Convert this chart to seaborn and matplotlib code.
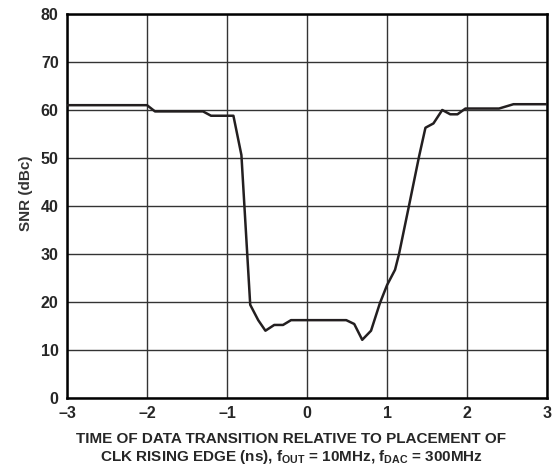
import pandas as pd
import matplotlib
matplotlib.use("Agg")
import matplotlib.pyplot as plt
import seaborn as sns

# SNR vs. data transition timing
time_ns = [-3.0, -2.0, -1.9, -1.3, -1.2, -0.92, -0.82, -0.71, -0.61, -0.52,
           -0.41, -0.30, -0.20, 0.49, 0.59, 0.69, 0.80, 0.91, 1.0, 1.10,
           1.15, 1.28, 1.40, 1.48, 1.58, 1.69, 1.79, 1.88, 1.98, 2.40,
           2.58, 3.0]
snr_dbc = [61.0, 61.0, 59.7, 59.7, 58.8, 58.8, 50.6, 19.4, 16.2, 14.0,
           15.2, 15.2, 16.2, 16.2, 15.4, 12.1, 14.0, 19.7, 23.5, 26.7,
           30.0, 40.5, 50.3, 56.3, 57.2, 60.0, 59.1, 59.1, 60.3, 60.3,
           61.2, 61.2]
x_ticks = [-3, -2, -1, 0, 1, 2, 3]
y_ticks = [0, 10, 20, 30, 40, 50, 60, 70, 80]

df = pd.DataFrame({"time": time_ns, "snr": snr_dbc})

sns.set_style("white")
plt.rcParams["font.family"] = ["Liberation Sans", "DejaVu Sans"]
plt.rcParams["font.weight"] = "bold"
plt.rcParams["mathtext.fontset"] = "custom"
plt.rcParams["mathtext.rm"] = "Liberation Sans:bold"
plt.rcParams["mathtext.bf"] = "Liberation Sans:bold"

fig = plt.figure(figsize=(5.55, 4.67), dpi=100)
ax = fig.add_axes([0.1207, 0.148, 0.865, 0.822])

sns.lineplot(data=df, x="time", y="snr", ax=ax, color="#231f20",
             linewidth=1.8, sort=False, zorder=3)

ax.set_xlim(-3, 3)
ax.set_ylim(0, 80)
ax.set_xticks(x_ticks)
ax.set_yticks(y_ticks)
ax.set_xticklabels(["\u2013" + str(-t) if t < 0 else str(t) for t in x_ticks])
ax.grid(True, color="#333333", linewidth=1.0)
ax.tick_params(length=0, labelsize=11.5, pad=6)
for lbl in ax.get_xticklabels() + ax.get_yticklabels():
    lbl.set_fontweight("bold")
for s in ax.spines.values():
    s.set_visible(True)
    s.set_color("black")
    s.set_linewidth(1.8)

ax.set_ylabel("SNR (dBc)", fontsize=11, fontweight="bold", color="#333333")
ax.yaxis.set_label_coords(-0.071, 0.534)
ax.set_xlabel("TIME OF DATA TRANSITION RELATIVE TO PLACEMENT OF\n"
              r"CLK RISING EDGE (ns), f$_{\mathrm{OUT}}$ = 10MHz, f$_{\mathrm{DAC}}$ = 300MHz",
              fontsize=11, fontweight="bold", linespacing=1.15)
ax.xaxis.set_label_coords(0.467, -0.09)

fig.savefig("out.png", dpi=100)
